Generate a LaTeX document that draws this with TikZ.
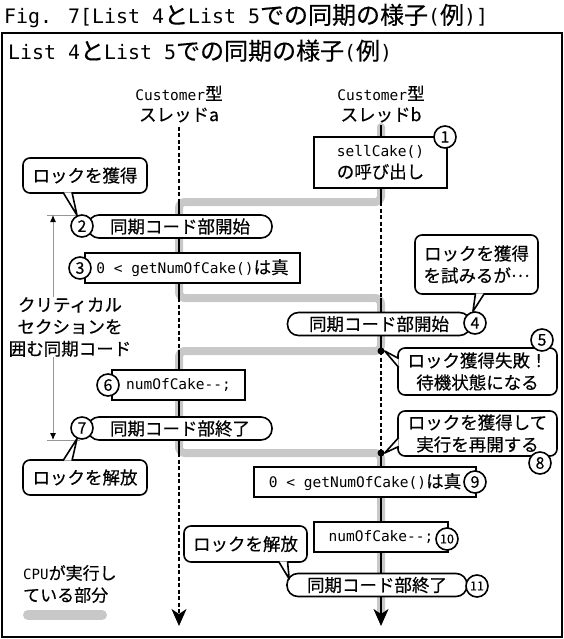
\documentclass[tikz,border=0pt]{standalone}
\usepackage{fontspec}
\setmainfont{Noto Sans CJK JP}[FakeBold=0.4]
\newfontfamily\mono{DejaVu Sans Mono}[Scale=0.83]
\usepackage{tikz}
\usetikzlibrary{arrows.meta}
\usetikzlibrary{positioning}
\usetikzlibrary{calc}
\definecolor{cpugray}{RGB}{200,200,200}
\definecolor{spangray}{RGB}{150,150,150}
\newcommand{\tm}[1]{{\mono #1}}
\newcommand{\numnode}[3]{\node(#1)[stepno] at (#2) {#3}}
\newcommand{\pnode}[4]{\node(#1)[pill, minimum width=#3] at (#2) {#4}}
\newcommand{\bnode}[4]{\node(#1)[codebox, minimum width=#3] at (#2) {#4}}
\newcommand{\tail}[3]{\fill[white] #1 -- #2 -- #3 -- cycle; \draw[tailline] #1 -- #2 -- #3}

\begin{document}
\begin{tikzpicture}[
        x=1pt, y=-1pt,
        every node/.style={font=\fontsize{17.5}{22}\selectfont, inner sep=0pt},
        frame/.style={draw, line width=2pt},
        cpu/.style={draw=cpugray, line width=8pt, rounded corners=6pt, line cap=round},
        busy/.style={line width=2pt},
        idle/.style={line width=2pt, dash pattern=on 4pt off 2.5pt},
        pill/.style={draw, fill=white, line width=1.6pt, rounded corners=11pt, minimum height=23pt},
        codebox/.style={draw, fill=white, line width=1.6pt, minimum height=30pt},
        note/.style={draw, fill=white, line width=1.6pt, rounded corners=7pt, align=center},
        stepno/.style={circle, draw, fill=white, line width=1.6pt, minimum size=22pt,
                       font=\fontsize{16}{16}\selectfont},
        tailline/.style={line width=1.6pt, line join=round},
        dot/.style={circle, fill, minimum size=7pt},
        span/.style={draw=spangray, line width=1pt, -{Latex[black, length=7pt, width=6pt]}},
        tick/.style={draw=spangray, line width=1pt},
        head/.style={-{Stealth[length=17pt, width=15pt, inset=5pt]}}
      ]
      \useasboundingbox (0,0) rectangle (564,639);
      \draw[frame] (2,33) rectangle (562,637);

      \node (fig) [anchor=west, font=\fontsize{24}{24}\selectfont] at (4,16)
        {\tm{Fig. 7[List 4}と\tm{List 5}での同期の様子\tm{(}例\tm{)]}};
      \node (ttl) [anchor=west, font=\fontsize{24}{24}\selectfont] at (8,51)
        {\tm{List 4}と\tm{List 5}での同期の様子\tm{(}例\tm{)}};

      \node (hdrA) [align=center, font=\fontsize{17.5}{21}\selectfont] at (179,104) {\tm{Customer}型\\スレッドa};
      \node (hdrB) [align=center, font=\fontsize{17.5}{21}\selectfont] at (381,104) {\tm{Customer}型\\スレッドb};

      % thread a / thread b
      \coordinate (a0) at (179,127); \coordinate (a1) at (179,202); \coordinate (a2) at (179,298);
      \coordinate (a3) at (179,351); \coordinate (a4) at (179,453); \coordinate (aE) at (179,626);
      \coordinate (b0) at (381,125); \coordinate (b1) at (381,202); \coordinate (b2) at (381,298);
      \coordinate (b3) at (381,351); \coordinate (b4) at (381,453); \coordinate (bE) at (381,626);
      \coordinate (bS) at (381,127); \coordinate (bG) at (381,610);

      \draw[cpu] (bS) -- (b1) -- (a1) -- (a2) -- (b2) -- (b3) -- (a3) -- (a4) -- (b4) -- (bG);

      \draw[idle] (a0) -- (a1);
      \draw[busy] (a1) -- (a2);
      \draw[idle] (a2) -- (a3);
      \draw[busy] (a3) -- (a4);
      \draw[idle, head] (a4) -- (aE);
      \draw[busy] (b0) -- (b1);
      \draw[idle] (b1) -- (b2);
      \draw[busy] (b2) -- (b3);
      \draw[idle] (b3) -- (b4);
      \draw[busy, head] (b4) -- (bE);
      \node[dot] (d5) at (b3) {};
      \node[dot] (d8) at (b4) {};

      % critical section span
      \coordinate (t1) at (47,215); \coordinate (t1e) at (80,215);
      \coordinate (t2) at (47,440); \coordinate (t2e) at (80,440);
      \coordinate (s1) at (53,215); \coordinate (s2) at (53,440);
      \draw[tick] (t1) -- (t1e);
      \draw[tick] (t2) -- (t2e);
      \node (crit) [align=center] at (70,327) {クリティカル\\セクションを\\囲む同期コード};
      \draw[span] (crit.north -| s1) -- (s1);
      \draw[span] (crit.south -| s2) -- (s2);

      % thread b calls sellCake()
      \node (call) [codebox, align=center, minimum width=133pt, minimum height=51pt] at (380.5,162.5)
        {\tm{sellCake()}\\の呼び出し};
      \numnode{n1}{445,137}{1};

      % thread a
      \pnode{begA}{180,226.5}{184pt}{同期コード部開始};
      \numnode{n2}{82,226}{2};
      \node (getA) [note, minimum width=124pt, minimum height=35pt] at (85,175.5) {ロックを獲得};
      \tail{($(getA.south)+(-22,-1.5)$)}{(n2.115)}{($(getA.south)+(-13,-1.5)$)};
      \bnode{chkA}{192.5,268}{215pt}{\tm{0 < getNumOfCake()}は真};
      \numnode{n3}{80,268}{3};

      % thread b tries the lock
      \node (tryB) [note, minimum width=123pt, minimum height=59pt] at (476.5,264.5)
        {ロックを獲得\\を試みるが\raisebox{0.3em}{…}};
      \pnode{begB}{379,324}{183pt}{同期コード部開始};
      \numnode{n4}{475,323}{4};
      \tail{($(tryB.south)+(-1,-1.5)$)}{(n4.100)}{($(tryB.south)+(8,-1.5)$)};
      \node (fail) [note, minimum width=159pt, minimum height=47pt] at (477.5,371.5) {ロック獲得失敗！\\待機状態になる};
      \tail{($(fail.west)+(1.5,-13)$)}{(d5.east)}{($(fail.west)+(1.5,-4)$)};
      \numnode{n5}{542,340}{5};

      % thread a leaves
      \bnode{decA}{178.5,385}{133pt}{\tm{numOfCake--;}};
      \numnode{n6}{108,385}{6};
      \pnode{endA}{180,428.5}{184pt}{同期コード部終了};
      \numnode{n7}{82,428}{7};
      \node (relA) [note, minimum width=124pt, minimum height=35pt] at (85,477.5) {ロックを解放};
      \tail{($(relA.north)+(-22,1.5)$)}{(n7.245)}{($(relA.north)+(-13,1.5)$)};

      % thread b resumes
      \node (resume) [note, minimum width=159pt, minimum height=45pt] at (477.5,433.5) {ロックを獲得して\\実行を再開する};
      \tail{($(resume.west)+(1.5,4)$)}{(d8.east)}{($(resume.west)+(1.5,13)$)};
      \numnode{n8}{540,463}{8};
      \bnode{chkB}{365,482}{222pt}{\tm{0 < getNumOfCake()}は真};
      \numnode{n9}{475,482}{9};
      \bnode{decB}{381,537}{134pt}{\tm{numOfCake--;}};
      \node (n10) [stepno, font=\fontsize{12.5}{12.5}\selectfont] at (447,539) {10};
      \pnode{endB}{377,585}{180pt}{同期コード部終了};
      \node (n11) [stepno, font=\fontsize{12.5}{12.5}\selectfont] at (477,586) {11};
      \node (relB) [note, minimum width=123pt, minimum height=36pt] at (245.5,544) {ロックを解放};
      \tail{($(relB.south)+(33,-1.5)$)}{($(endB.west)+(3,-6)$)}{($(relB.south)+(42,-1.5)$)};

      % legend
      \node (legend) [align=left, anchor=west, font=\fontsize{17}{22}\selectfont] at (23,584)
        {\tm{CPU}が実行し\\ている部分};
      \coordinate (k1) at (28,615); \coordinate (k2) at (102,615);
      \draw[cpu, line width=10pt] (k1) -- (k2);
    \end{tikzpicture}
\end{document}
